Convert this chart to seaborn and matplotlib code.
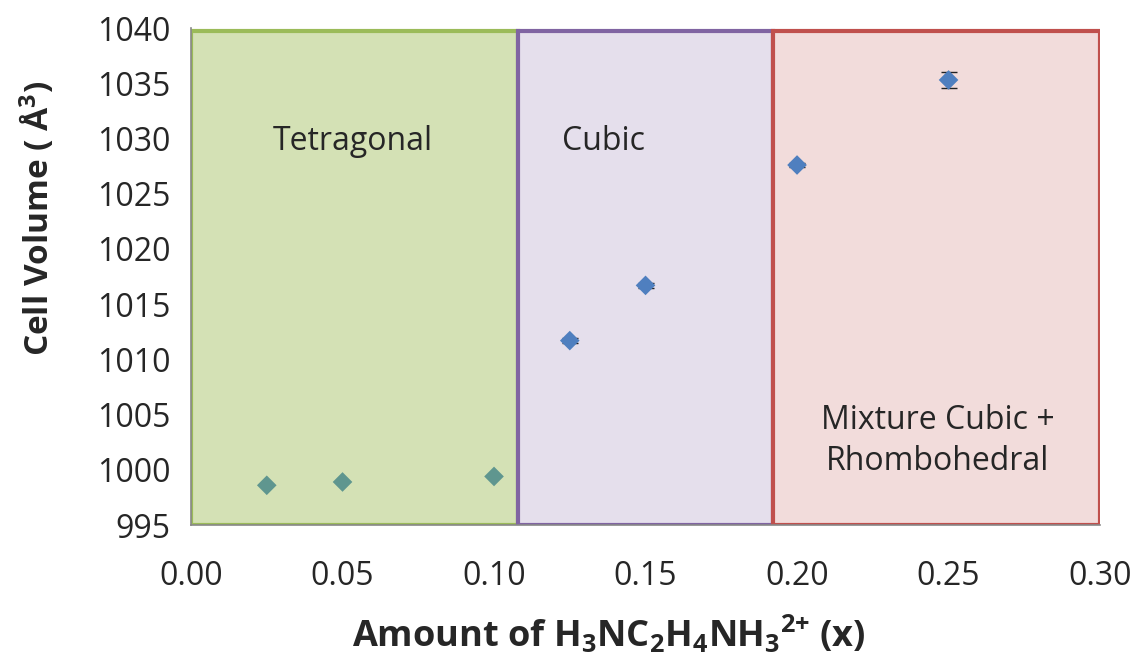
import matplotlib
matplotlib.use("Agg")
import matplotlib.pyplot as plt
import seaborn as sns
import pandas as pd

# data
x_tet = [0.025, 0.05, 0.10]
v_tet = [998.6, 998.9, 999.4]
x_cub = [0.125, 0.15, 0.20, 0.25]
v_cub = [1011.7, 1016.7, 1027.6, 1035.3]
err_cub = [0.2, 0.2, 0.2, 0.75]
regions = ["Tetragonal", "Cubic", "Mixture Cubic +\nRhombohedral"]
region_bounds = [(0.0, 0.108), (0.108, 0.192), (0.192, 0.30)]
x_ticks = [0.00, 0.05, 0.10, 0.15, 0.20, 0.25, 0.30]
y_ticks = [995, 1000, 1005, 1010, 1015, 1020, 1025, 1030, 1035, 1040]

sns.set_theme(style="white")
plt.rcParams['font.family'] = ['Open Sans', 'DejaVu Sans']
plt.rcParams['mathtext.fontset'] = 'custom'
plt.rcParams['mathtext.rm'] = 'Open Sans'
plt.rcParams['mathtext.bf'] = 'Open Sans:bold'
plt.rcParams['mathtext.default'] = 'bf'

fig = plt.figure(figsize=(11.37, 6.68), dpi=100)
ax = fig.add_axes([0.168, 0.214, 0.7995, 0.744])

fills = ["#D4E1B5", "#E5DFEC", "#F2DCDB"]
edges = ["#9BBB59", "#8064A2", "#C0504D"]
for (a, b), fc, ec in zip(region_bounds, fills, edges):
    ax.axvspan(a, b, ymin=0.0, ymax=0.995, facecolor=fc, edgecolor=ec, linewidth=3, zorder=1)

df_t = pd.DataFrame({"x": x_tet, "v": v_tet})
df_c = pd.DataFrame({"x": x_cub, "v": v_cub})
ax.errorbar(x_cub, v_cub, yerr=err_cub, fmt="none", ecolor="#222222", elinewidth=1.3, capsize=6, zorder=3)
sns.scatterplot(data=df_t, x="x", y="v", marker="D", s=100, color="#5F968F", edgecolor="none", ax=ax, zorder=4)
sns.scatterplot(data=df_c, x="x", y="v", marker="D", s=100, color="#4F7FBF", edgecolor="none", ax=ax, zorder=4)

ax.text(0.0535, 1029.7, regions[0], fontsize=23, ha="center", va="center", zorder=5)
ax.text(0.136, 1029.7, regions[1], fontsize=23, ha="center", va="center", zorder=5)
ax.text(0.2465, 1002.6, regions[2], fontsize=23, ha="center", va="center", linespacing=1.3, zorder=5)

ax.set_xlim(0, 0.30)
ax.set_ylim(995, 1040)
ax.set_xticks(x_ticks)
ax.set_xticklabels([f"{t:.2f}" for t in x_ticks], fontsize=23)
ax.set_yticks(y_ticks)
ax.set_yticklabels([str(t) for t in y_ticks], fontsize=23)
ax.tick_params(axis="both", direction="out", length=7, width=1.2, color="#888888", pad=8)
ax.tick_params(axis="x", pad=18)
for s in ["top", "right"]:
    ax.spines[s].set_visible(False)
for s in ["left", "bottom"]:
    ax.spines[s].set_color("#888888")
    ax.spines[s].set_linewidth(1.2)

ax.set_xlabel(r"Amount of H$_3$NC$_2$H$_4$NH$_3$$^{2{+}}$ (x)", fontsize=26, fontweight="bold")
ax.set_ylabel(r"Cell Volume ( Å$^3$)", fontsize=24, fontweight="bold")
ax.xaxis.set_label_coords(0.46, -0.178)
ax.yaxis.set_label_coords(-0.147, 0.618)

fig.savefig("out.png", dpi=100)
